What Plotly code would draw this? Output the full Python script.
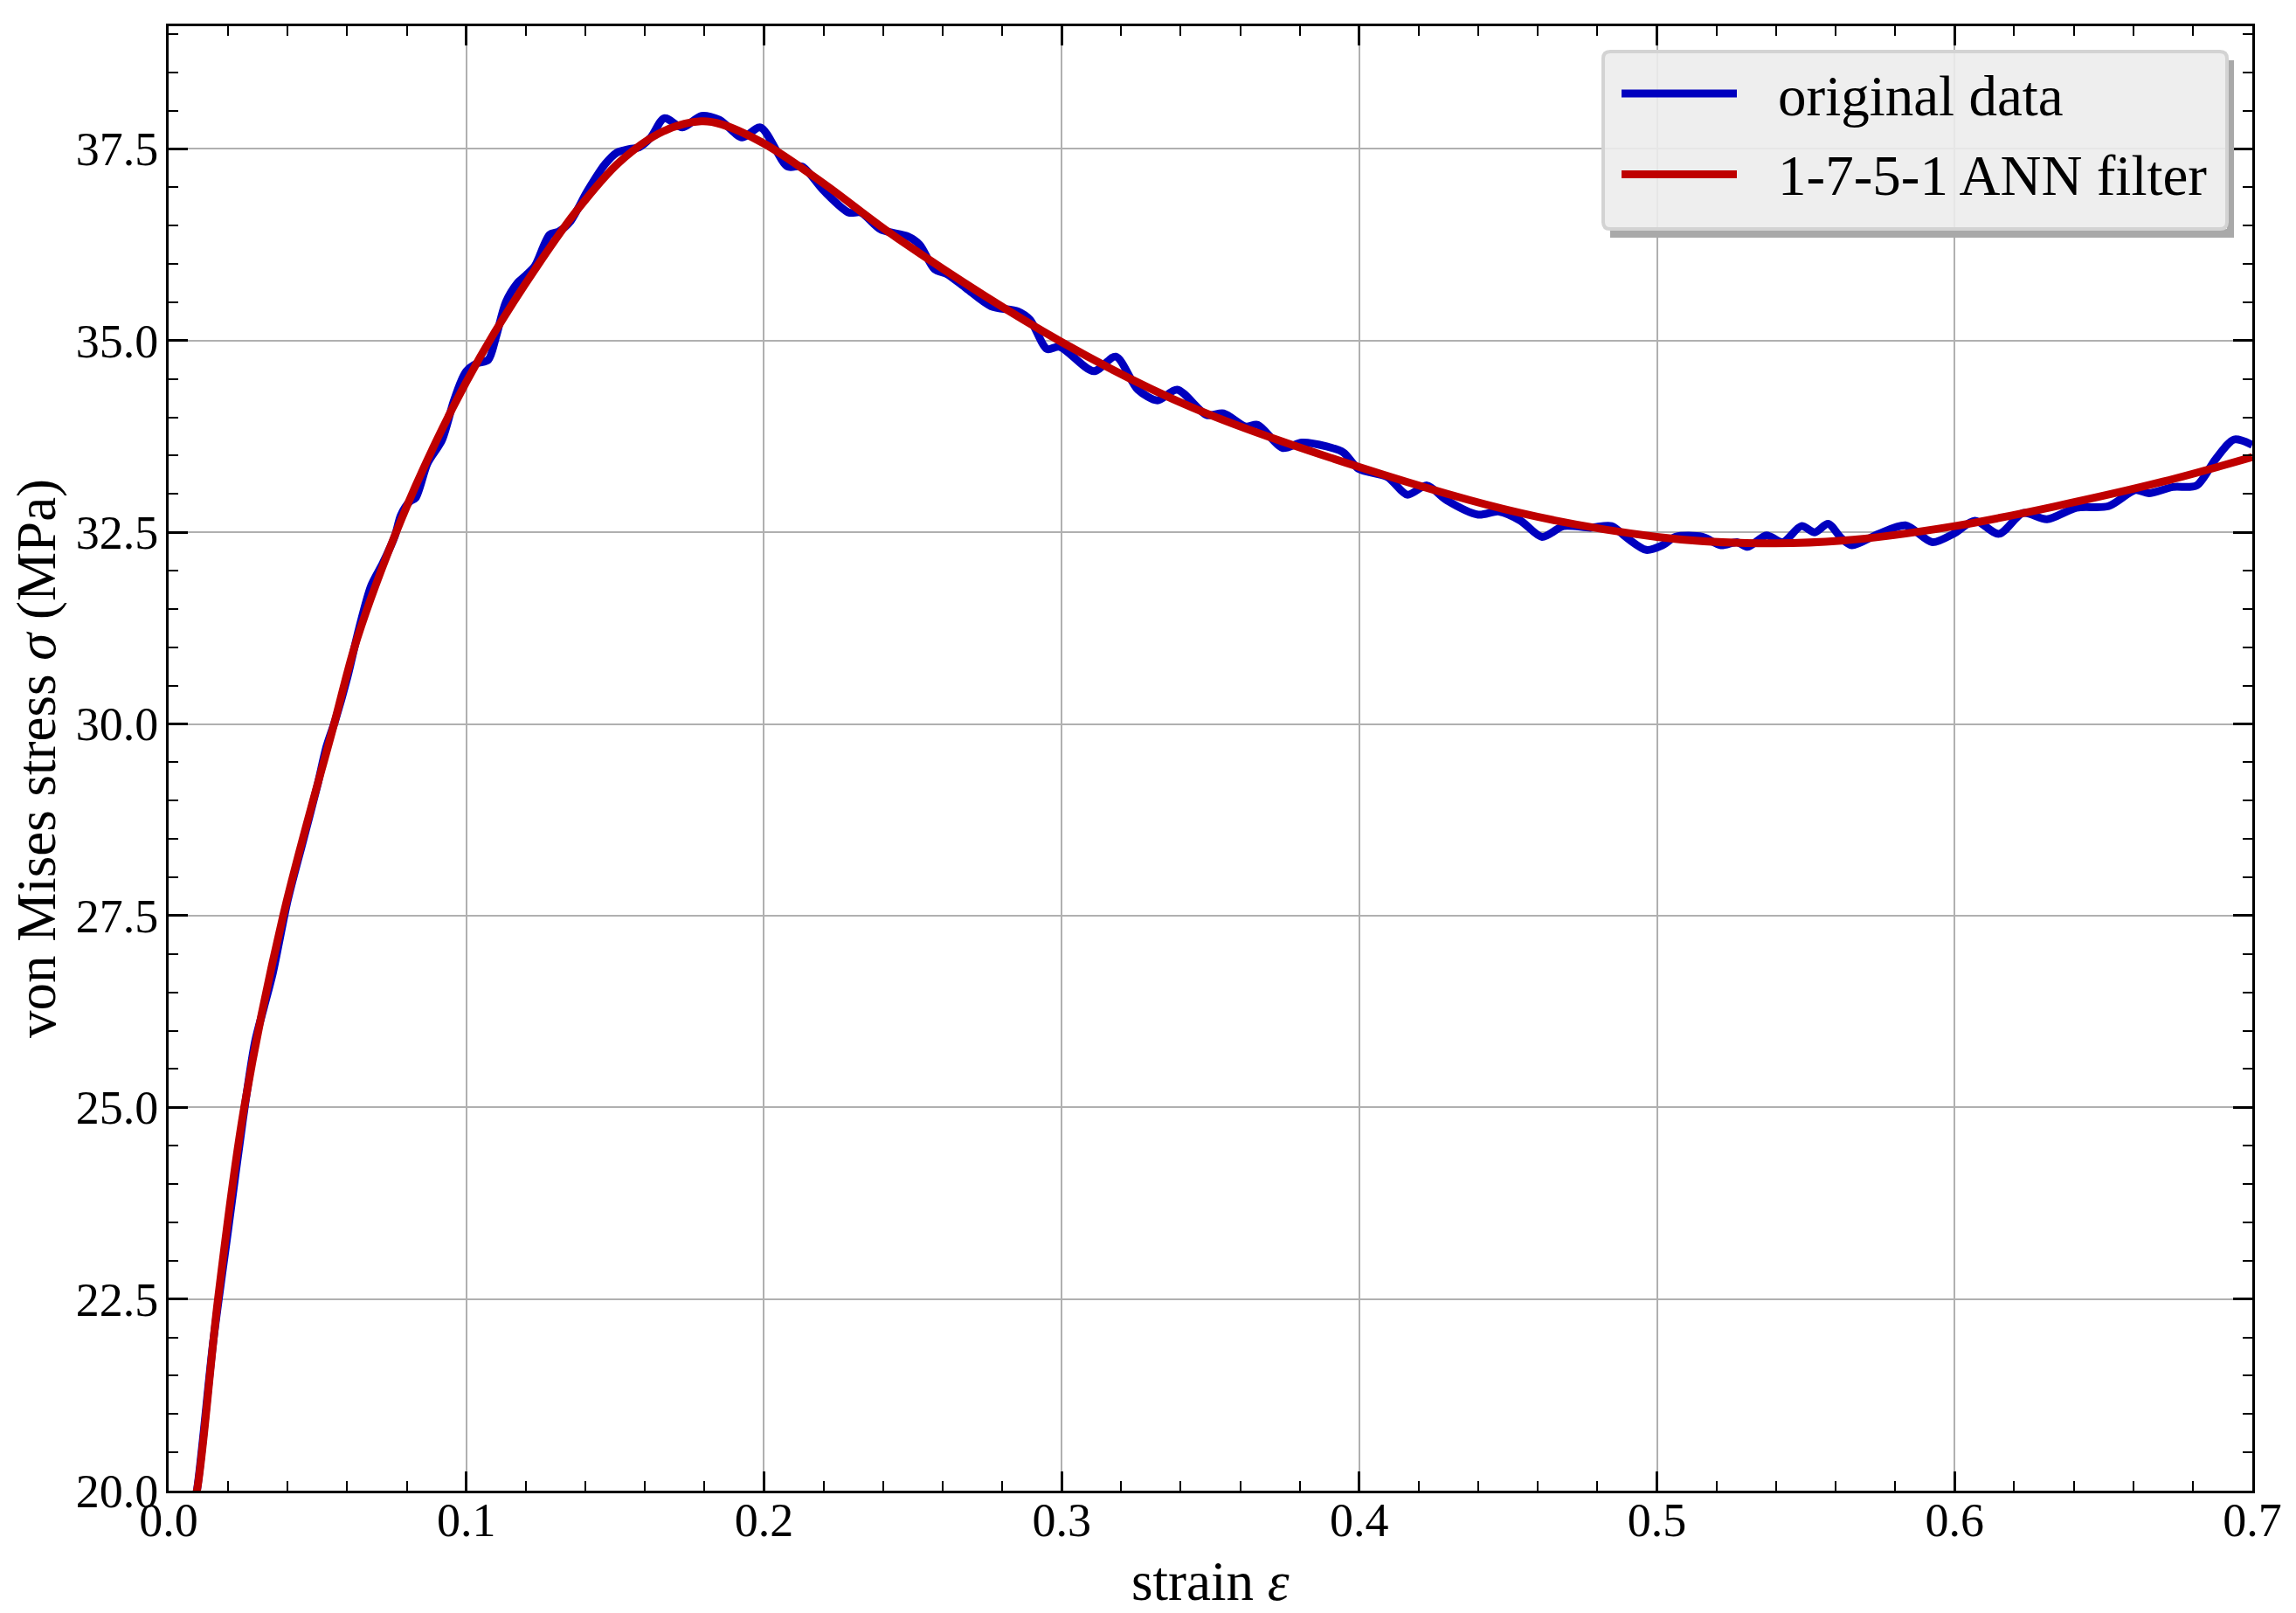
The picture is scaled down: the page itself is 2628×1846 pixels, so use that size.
import plotly.graph_objects as go

# ---- data ----
strain_orig = [0.008, 0.0095, 0.015, 0.02, 0.025, 0.029, 0.032, 0.035, 0.04, 0.045,
               0.05, 0.053, 0.056, 0.06, 0.064, 0.068, 0.072, 0.076, 0.078, 0.081,
               0.083, 0.087, 0.0918, 0.0957, 0.0986, 0.1, 0.1035, 0.1074, 0.11, 0.1133,
               0.1172, 0.12, 0.123, 0.128, 0.131, 0.1349, 0.1407, 0.1466, 0.1505, 0.155,
               0.158, 0.162, 0.1665, 0.1726, 0.179, 0.185, 0.1927, 0.1988, 0.2079, 0.2128,
               0.2202, 0.2285, 0.2326, 0.2392, 0.2482, 0.2523, 0.2573, 0.2614, 0.268, 0.2762,
               0.2853, 0.2894, 0.2951, 0.2993, 0.3108, 0.3182, 0.3256, 0.3322, 0.3388, 0.3487,
               0.3544, 0.3618, 0.3659, 0.3742, 0.3807, 0.389, 0.3947, 0.3997, 0.4095, 0.4161,
               0.4227, 0.4293, 0.4399, 0.447, 0.4542, 0.4614, 0.4686, 0.4776, 0.4847, 0.4901,
               0.4964, 0.5018, 0.5063, 0.5153, 0.5215, 0.5269, 0.5305, 0.5368, 0.5422, 0.5485,
               0.553, 0.5575, 0.562, 0.5655, 0.5745, 0.5835, 0.5925, 0.5996, 0.6068, 0.6149,
               0.623, 0.631, 0.6409, 0.6517, 0.6607, 0.6652, 0.6733, 0.6813, 0.6876, 0.6939,
               0.7]
stress_orig = [19.75, 20.0, 21.95, 23.4, 24.85, 25.85, 26.3, 26.75, 27.7, 28.45,
               29.2, 29.7, 30.05, 30.6, 31.25, 31.8, 32.1, 32.45, 32.72, 32.9,
               32.95, 33.4, 33.7, 34.2, 34.5, 34.6, 34.7, 34.75, 35.05, 35.5,
               35.75, 35.85, 35.97, 36.38, 36.42, 36.55, 36.95, 37.3, 37.45, 37.5,
               37.52, 37.65, 37.9, 37.78, 37.93, 37.88, 37.65, 37.78, 37.27, 37.27,
               36.95, 36.67, 36.67, 36.45, 36.36, 36.25, 35.93, 35.87, 35.68, 35.45,
               35.38, 35.27, 34.89, 34.92, 34.6, 34.79, 34.36, 34.22, 34.36, 34.03,
               34.05, 33.88, 33.9, 33.6, 33.67, 33.62, 33.54, 33.33, 33.22, 32.99,
               33.11, 32.92, 32.73, 32.77, 32.65, 32.44, 32.58, 32.56, 32.58, 32.42,
               32.27, 32.33, 32.44, 32.44, 32.33, 32.37, 32.31, 32.46, 32.37, 32.58,
               32.5, 32.61, 32.42, 32.33, 32.48, 32.59, 32.37, 32.48, 32.65, 32.48,
               32.75, 32.67, 32.82, 32.84, 33.05, 33.01, 33.09, 33.11, 33.45, 33.71,
               33.64]

strain_ann = [0.008, 0.0095, 0.0166, 0.0254, 0.0385, 0.0556, 0.0634, 0.0781, 0.0898, 0.1,
              0.1094, 0.1231, 0.1368, 0.1515, 0.1662, 0.1789, 0.1858, 0.2, 0.22, 0.245,
              0.3, 0.3437, 0.4, 0.4542, 0.5, 0.53, 0.562, 0.6, 0.634, 0.67, 0.7]
stress_ann = [19.8, 20.0, 22.5, 25.0, 27.5, 30.0, 31.12, 32.66, 33.68, 34.46,
              35.1, 35.93, 36.68, 37.33, 37.73, 37.86, 37.82, 37.57, 37.05, 36.33,
              34.98, 34.13, 33.35, 32.75, 32.44, 32.36, 32.39, 32.58, 32.84, 33.16, 33.48]

x_ticks = [0.0, 0.1, 0.2, 0.3, 0.4, 0.5, 0.6, 0.7]
y_ticks = [20.0, 22.5, 25.0, 27.5, 30.0, 32.5, 35.0, 37.5]
legend_names = ["original data", "1-7-5-1 ANN filter"]

BLUE = "#0000bf"
RED = "#bf0000"

W, H = 2628, 1846
L, R, T, B = 193, 2578, 30, 1706


def px_x(p):
    return (p - L) / (R - L)


def px_y(p):
    return (B - p) / (B - T)


def rounded_rect(x0, y0, x1, y1, r):
    # pixel box -> path in paper coords
    rx = r / (R - L)
    ry = r / (B - T)
    a, b, c, d = px_x(x0), px_y(y0), px_x(x1), px_y(y1)
    return (f"M{a + rx},{b} L{c - rx},{b} Q{c},{b} {c},{b - ry} "
            f"L{c},{d + ry} Q{c},{d} {c - rx},{d} L{a + rx},{d} "
            f"Q{a},{d} {a},{d + ry} L{a},{b - ry} Q{a},{b} {a + rx},{b} Z")


fig = go.Figure()
fig.add_trace(go.Scatter(x=strain_orig, y=stress_orig, mode="lines", name=legend_names[0],
                         line=dict(color=BLUE, width=9, shape="spline", smoothing=0.8)))
fig.add_trace(go.Scatter(x=strain_ann, y=stress_ann, mode="lines", name=legend_names[1],
                         line=dict(color=RED, width=9, shape="spline", smoothing=1.0)))

axis_common = dict(
    showline=True, linecolor="black", linewidth=3, mirror="ticks",
    ticks="inside", ticklen=22, tickwidth=3, tickcolor="black",
    showgrid=True, gridcolor="#b0b0b0", gridwidth=2, zeroline=False,
    tickfont=dict(family="Liberation Serif", size=54, color="black"),
)

fig.update_xaxes(range=[0, 0.7], tickvals=x_ticks, ticktext=[f"{v:.1f}" for v in x_ticks],
                 minor=dict(ticks="inside", ticklen=11, tickwidth=2, tickcolor="black",
                            tick0=0, dtick=0.02, showgrid=False),
                 ticklabelstandoff=-16, **axis_common)
fig.update_yaxes(range=[20, 39.1], tickvals=y_ticks, ticktext=[f"{v:.1f}" for v in y_ticks],
                 minor=dict(ticks="inside", ticklen=11, tickwidth=2, tickcolor="black",
                            tick0=20, dtick=0.5, showgrid=False),
                 ticklabelstandoff=-2, **axis_common)

# legend drawn by hand (matplotlib style box with shadow)
bx0, by0, bx1, by1 = 1835, 59, 2549, 262
dx, dy = 8, 10
shadow = (f"M{px_x(bx1)},{px_y(by0 + dy)} L{px_x(bx1 + dx)},{px_y(by0 + dy)} "
          f"L{px_x(bx1 + dx)},{px_y(by1 + dy)} L{px_x(bx0 + dx)},{px_y(by1 + dy)} "
          f"L{px_x(bx0 + dx)},{px_y(by1)} L{px_x(bx1)},{px_y(by1)} Z")
fig.add_shape(type="path", path=shadow, xref="paper", yref="paper", layer="above",
              fillcolor="#a9a9a9", line=dict(width=0))
fig.add_shape(type="path", path=rounded_rect(bx0, by0, bx1, by1, 8), xref="paper", yref="paper",
              layer="above", fillcolor="rgba(236,236,236,0.9)", line=dict(color="#d3d3d3", width=4))

rows = [(107, 110, BLUE), (199.5, 201, RED)]
for name, (ly, ty, col) in zip(legend_names, rows):
    fig.add_shape(type="line", xref="paper", yref="paper", layer="above",
                  x0=px_x(1856), x1=px_x(1988), y0=px_y(ly), y1=px_y(ly),
                  line=dict(color=col, width=9))
    fig.add_annotation(text=name, xref="paper", yref="paper", x=px_x(2033), y=px_y(ty),
                       xanchor="left", yanchor="middle", showarrow=False,
                       font=dict(family="Liberation Serif", size=65, color="black"))

# axis titles
fig.add_annotation(text="strain <i>ε</i>", xref="paper", yref="paper", x=0.5, y=px_y(1810),
                   xanchor="center", yanchor="middle", showarrow=False,
                   font=dict(family="Liberation Serif", size=63, color="black"))
fig.add_annotation(text="von Mises stress <i>σ</i> (MPa)", xref="paper", yref="paper",
                   x=px_x(42), y=0.5, textangle=-90, xanchor="center", yanchor="middle",
                   showarrow=False, font=dict(family="Liberation Serif", size=63, color="black"))

fig.update_layout(
    width=W, height=H,
    margin=dict(l=L, r=W - R, t=T, b=H - B, pad=0),
    paper_bgcolor="white", plot_bgcolor="white",
    font=dict(family="Liberation Serif", size=54, color="black"),
    showlegend=False,
)

fig.write_html("out.html", config={"displayModeBar": False},
               post_script="document.body.style.margin='0px';")
